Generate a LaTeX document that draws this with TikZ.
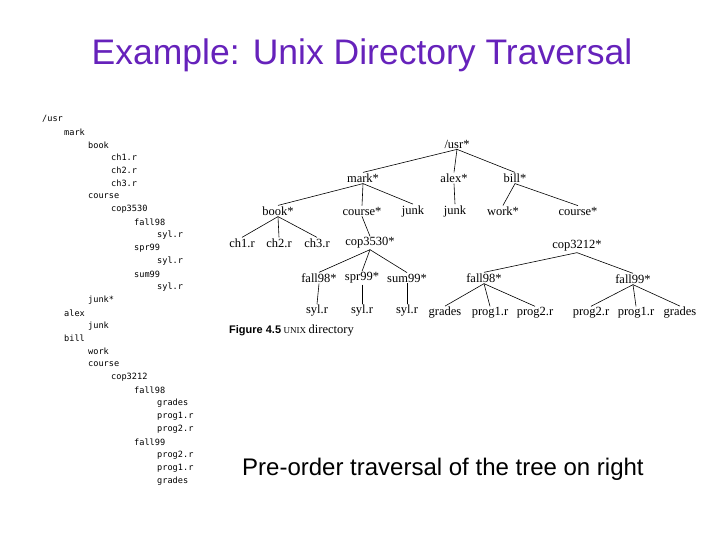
\documentclass[tikz,border=0pt]{standalone}
\usepackage{fontspec}
\setmainfont{Liberation Serif}
\setsansfont{Liberation Sans}
\newfontfamily\lst{DejaVu Sans Mono}
\definecolor{ttl}{RGB}{102,34,187}
\begin{document}
\begin{tikzpicture}[x=1pt,y=-1pt,
  tn/.style={font=\fontsize{12.5}{13}\selectfont,inner sep=1pt},
  ln/.style={font=\lst\fontsize{8.6}{10}\selectfont,anchor=west,inner sep=0pt},
  ed/.style={draw,line width=0.6pt}]
\useasboundingbox (0,0) rectangle (720,540);
\node[font=\sffamily\fontsize{35.5}{38}\selectfont,text=ttl] (title) at (362,55) {Example: Unix Directory Traversal};
% listing
\node[ln] (l0) at (42,119) {/usr};
\foreach \t/\x [count=\i] in {mark/64,book/88,ch1.r/111,ch2.r/111,ch3.r/111,course/88,cop3530/111,fall98/134,syl.r/157,spr99/134,syl.r/157,sum99/134,syl.r/157,junk*/88,alex/64,junk/88,bill/64,work/88,course/88,cop3212/111,fall98/134,grades/157,prog1.r/157,prog2.r/157,fall99/134,prog2.r/157,prog1.r/157,grades/157}
  \node[ln] (l\i) at (\x,{119+12.92*\i}) {\t};
% tree
\node[tn] (usr) at (457,144) {/usr*};
\node[tn] (mark) at (363,178) {mark*};
\node[tn] (alex) at (454,178) {alex*};
\node[tn] (bill) at (515,178) {bill*};
\node[tn] (book) at (278,211) {book*};
\node[tn] (mcourse) at (362,211) {course*};
\node[tn] (mjunk) at (413,211) {junk};
\node[tn] (ajunk) at (455,211) {junk};
\node[tn] (work) at (503,211) {work*};
\node[tn] (bcourse) at (578,211) {course*};
\node[tn] (ch1) at (242,243) {ch1.r};
\node[tn] (ch2) at (279,243) {ch2.r};
\node[tn] (ch3) at (317,243) {ch3.r};
\node[tn] (c3530) at (370,243) {cop3530*};
\node[tn] (c3212) at (577,246) {cop3212*};
\node[tn] (mf98) at (319,278) {fall98*};
\node[tn] (spr) at (362,278) {spr99*};
\node[tn] (sum) at (407,278) {sum99*};
\node[tn] (bf98) at (484,278) {fall98*};
\node[tn] (bf99) at (633,279) {fall99*};
\node[tn] (s1) at (317,311) {syl.r};
\node[tn] (s2) at (362,311) {syl.r};
\node[tn] (s3) at (407,311) {syl.r};
\node[tn] (g1) at (445,313) {grades};
\node[tn] (p11) at (490,313) {prog1.r};
\node[tn] (p21) at (535,313) {prog2.r};
\node[tn] (p22) at (591,313) {prog2.r};
\node[tn] (p12) at (636,313) {prog1.r};
\node[tn] (g2) at (680,313) {grades};
\foreach \a/\b in {usr/mark,usr/alex,usr/bill,mark/book,mark/mcourse,mark/mjunk,alex/ajunk,bill/work,bill/bcourse,book/ch1,book/ch2,book/ch3,mcourse/c3530,c3530/mf98,c3530/spr,c3530/sum,mf98/s1,spr/s2,sum/s3,c3212/bf98,c3212/bf99,bf98/g1,bf98/p11,bf98/p21,bf99/p22,bf99/p12,bf99/g2}
  \draw[ed] (\a.south) -- (\b.north);
\node[anchor=west,inner sep=0pt] (cap) at (229,331) {{\sffamily\bfseries\fontsize{11}{12}\selectfont Figure 4.5}\ {\fontsize{9}{10}\selectfont UNIX} {\fontsize{12.5}{13}\selectfont directory}};
\node[anchor=west,font=\sffamily\fontsize{24}{26}\selectfont,inner sep=0pt] (note) at (242,469) {Pre-order traversal of the tree on right};
\end{tikzpicture}
\end{document}
